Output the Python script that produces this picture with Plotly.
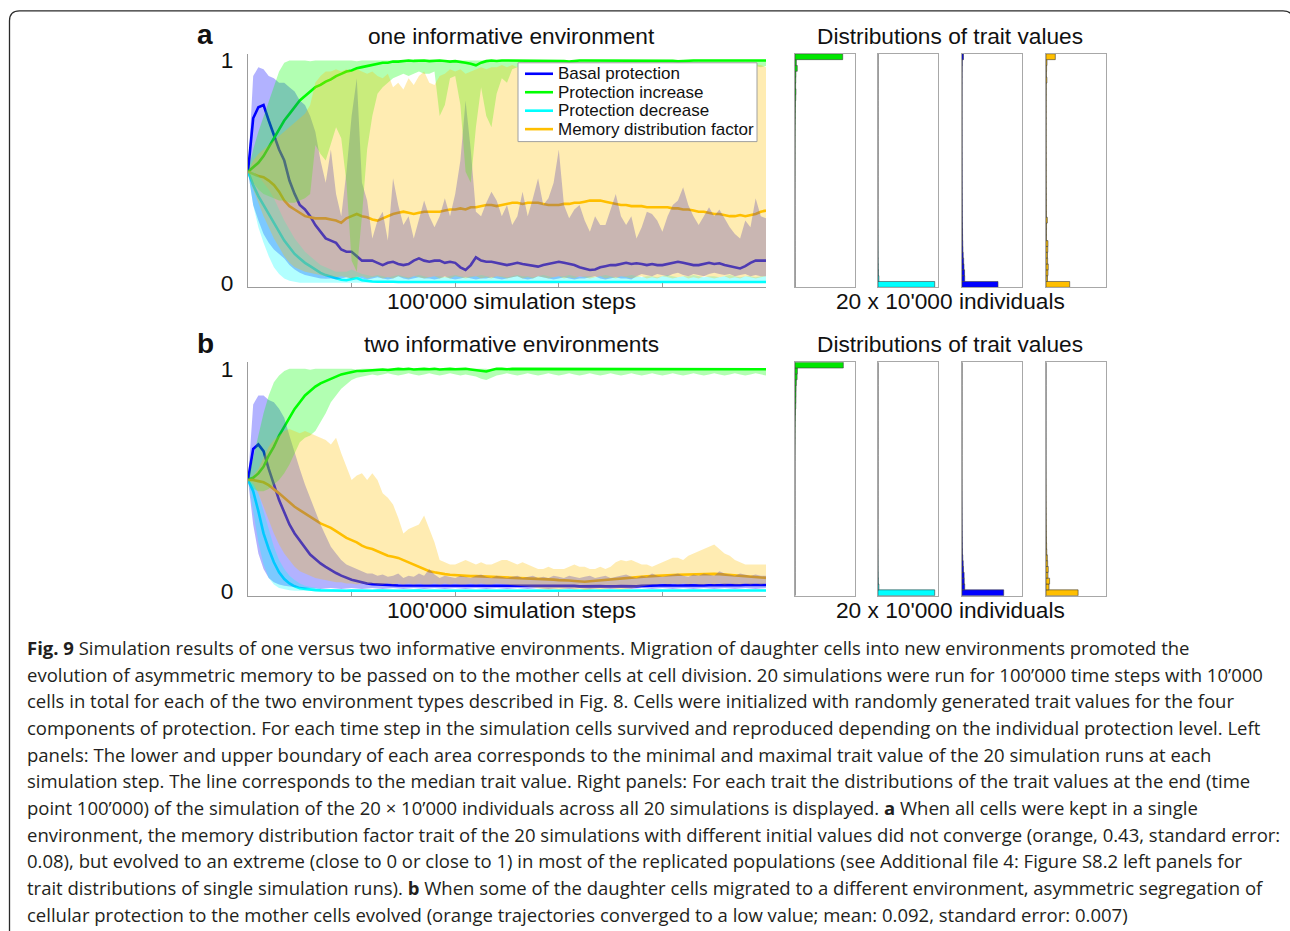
import plotly.graph_objects as go

# ----------------------------------------------------------------- data
steps = list(range(0, 100001, 1000))          # sample positions (simulation steps)
bin_centers = [round(0.0125 + 0.025 * i, 4) for i in range(40)]   # histogram bins of trait value

trait_names = {"basal": "Basal protection", "increase": "Protection increase",
               "decrease": "Protection decrease", "memory": "Memory distribution factor"}

# ---- panel a : one informative environment (median, min, max of 20 runs)
basal_med_a = [0.50,0.74,0.79,0.80,0.73,0.66,0.60,0.55,0.46,0.40,
               0.35,0.33,0.30,0.26,0.23,0.20,0.19,0.18,0.15,0.14,
               0.14,0.12,0.10,0.10,0.10,0.09,0.08,0.09,0.095,0.085,
               0.08,0.085,0.10,0.11,0.10,0.095,0.10,0.10,0.09,0.095,
               0.09,0.07,0.058,0.08,0.115,0.10,0.095,0.095,0.09,0.085,
               0.08,0.085,0.09,0.085,0.08,0.075,0.073,0.08,0.085,0.09,
               0.095,0.09,0.085,0.08,0.07,0.065,0.058,0.06,0.07,0.075,
               0.08,0.08,0.085,0.09,0.085,0.088,0.085,0.08,0.085,0.08,
               0.08,0.085,0.09,0.095,0.09,0.085,0.08,0.08,0.085,0.09,
               0.085,0.088,0.08,0.075,0.07,0.065,0.075,0.09,0.10,0.10,
               0.10]
basal_max_a = [0.50,0.93,0.97,0.96,0.93,0.92,0.90,0.90,0.88,0.86,
               0.82,0.80,0.75,0.68,0.55,0.45,0.60,0.40,0.30,0.50,
               0.75,0.92,0.45,0.37,0.20,0.28,0.32,0.19,0.47,0.35,
               0.26,0.30,0.20,0.28,0.37,0.30,0.25,0.30,0.38,0.30,
               0.40,0.55,0.82,0.60,0.32,0.30,0.36,0.41,0.37,0.30,
               0.35,0.26,0.30,0.41,0.30,0.38,0.47,0.35,0.38,0.45,
               0.60,0.35,0.29,0.33,0.35,0.28,0.23,0.30,0.26,0.26,
               0.33,0.40,0.30,0.26,0.30,0.20,0.25,0.32,0.31,0.28,
               0.23,0.30,0.35,0.37,0.43,0.35,0.30,0.26,0.30,0.34,
               0.30,0.33,0.29,0.25,0.22,0.20,0.28,0.25,0.38,0.30,
               0.29]
basal_min_a = [0.50,0.35,0.28,0.22,0.18,0.15,0.13,0.11,0.08,0.06,
               0.045,0.035,0.03,0.025,0.02,0.018,0.02,0.015,0.02,0.025,
               0.02,0.03,0.02,0.015,0.02,0.025,0.02,0.015,0.02,0.03,
               0.02,0.015,0.02,0.025,0.02,0.02,0.015,0.02,0.03,0.02,
               0.015,0.02,0.025,0.02,0.015,0.02,0.02,0.025,0.02,0.015,
               0.02,0.025,0.03,0.02,0.015,0.02,0.03,0.025,0.02,0.015,
               0.02,0.025,0.02,0.015,0.02,0.02,0.025,0.03,0.02,0.015,
               0.02,0.025,0.02,0.02,0.015,0.03,0.04,0.035,0.03,0.04,
               0.035,0.03,0.04,0.045,0.035,0.03,0.04,0.035,0.03,0.04,
               0.045,0.04,0.035,0.04,0.03,0.035,0.04,0.03,0.035,0.03,
               0.03]
incr_med_a = [0.50,0.52,0.54,0.57,0.61,0.65,0.69,0.73,0.76,0.79,
              0.82,0.84,0.86,0.88,0.89,0.905,0.915,0.93,0.94,0.95,
              0.955,0.965,0.97,0.975,0.98,0.985,0.99,0.99,0.995,0.995,
              0.998,1.0,0.998,1.0,1.0,0.997,1.0,1.0,0.998,0.995,
              0.997,0.995,0.99,0.985,0.978,0.99,0.997,1.0,0.998,1.0,
              1.0,0.998,1.0,1.0,0.997,1.0,1.0,1.0,0.998,1.0,
              1.0,0.997,0.995,0.998,1.0,1.0,1.0,0.998,1.0,1.0,
              0.998,1.0,1.0,1.0,0.997,1.0,1.0,1.0,1.0,0.998,
              1.0,1.0,0.998,0.996,0.998,1.0,1.0,1.0,1.0,0.998,
              1.0,1.0,1.0,0.997,0.998,1.0,1.0,1.0,1.0,1.0,
              1.0]
incr_max_a = [0.50,0.60,0.68,0.75,0.82,0.88,0.95,0.99,1.0,1.0,
              1.0,1.0,0.996,1.0,1.0,1.0,0.997,1.0,1.0,1.0,
              1.0,0.996,1.0,1.0,1.0,1.0,0.997,1.0,1.0,1.0,
              1.0,1.0,1.0,0.997,1.0,1.0,1.0,1.0,0.996,1.0,
              1.0,1.0,0.997,1.0,1.0,1.0,1.0,0.996,1.0,1.0,
              1.0,1.0,1.0,1.0,0.997,1.0,1.0,1.0,1.0,0.996,
              1.0,1.0,0.997,1.0,1.0,1.0,1.0,1.0,0.996,1.0,
              1.0,1.0,1.0,0.997,1.0,1.0,1.0,1.0,1.0,0.996,
              1.0,1.0,1.0,1.0,0.997,1.0,1.0,0.996,1.0,1.0,
              1.0,0.997,1.0,1.0,1.0,1.0,0.996,1.0,1.0,1.0,
              1.0]
incr_min_a = [0.50,0.45,0.42,0.40,0.39,0.38,0.37,0.37,0.36,0.36,
              0.37,0.38,0.40,0.62,0.58,0.55,0.62,0.70,0.65,0.45,
              0.10,0.05,0.30,0.60,0.75,0.85,0.88,0.90,0.92,0.93,
              0.94,0.93,0.94,0.95,0.94,0.94,0.95,0.75,0.80,0.92,
              0.93,0.80,0.50,0.45,0.70,0.88,0.75,0.70,0.85,0.92,
              0.90,0.96,0.97,0.975,0.97,0.98,0.975,0.97,0.98,0.975,
              0.97,0.975,0.98,0.975,0.97,0.98,0.975,0.98,0.97,0.975,
              0.98,0.975,0.97,0.975,0.98,0.975,0.97,0.98,0.975,0.97,
              0.975,0.98,0.975,0.97,0.975,0.98,0.975,0.97,0.975,0.98,
              0.975,0.97,0.975,0.98,0.975,0.97,0.975,0.98,0.975,0.97,
              0.975]
decr_med_a = [0.50,0.44,0.39,0.35,0.31,0.27,0.23,0.19,0.16,0.13,
              0.11,0.09,0.075,0.06,0.045,0.035,0.028,0.02,0.014,0.012,
              0.016,0.022,0.012,0.008,0.006,0.005,0.006,0.004,0.005,0.004,
              0.004,0.005,0.003,0.004,0.006,0.004,0.003,0.004,0.005,0.004,
              0.003,0.004,0.004,0.005,0.003,0.004,0.005,0.004,0.003,0.004,
              0.004,0.003,0.005,0.004,0.003,0.004,0.004,0.005,0.004,0.003,
              0.004,0.005,0.004,0.003,0.004,0.004,0.003,0.005,0.004,0.003,
              0.004,0.004,0.005,0.003,0.004,0.004,0.003,0.004,0.005,0.004,
              0.003,0.004,0.004,0.003,0.005,0.004,0.004,0.003,0.004,0.005,
              0.004,0.004,0.003,0.004,0.004,0.005,0.003,0.004,0.004,0.003,
              0.004]
decr_max_a = [0.50,0.50,0.48,0.45,0.42,0.38,0.33,0.28,0.24,0.20,
              0.17,0.14,0.12,0.10,0.08,0.07,0.06,0.05,0.05,0.05,
              0.06,0.05,0.04,0.035,0.03,0.035,0.03,0.025,0.03,0.035,
              0.03,0.025,0.03,0.035,0.03,0.025,0.03,0.03,0.025,0.03,
              0.035,0.03,0.025,0.03,0.03,0.035,0.03,0.025,0.03,0.03,
              0.025,0.03,0.035,0.03,0.03,0.025,0.03,0.035,0.03,0.025,
              0.03,0.03,0.035,0.03,0.025,0.03,0.03,0.025,0.03,0.035,
              0.03,0.025,0.03,0.03,0.035,0.03,0.025,0.03,0.03,0.025,
              0.03,0.035,0.03,0.025,0.03,0.03,0.035,0.03,0.025,0.03,
              0.03,0.025,0.03,0.035,0.03,0.025,0.03,0.03,0.025,0.03,
              0.03]
decr_min_a = [0.50,0.35,0.25,0.18,0.12,0.07,0.04,0.02,0.01,0.005,
              0.0,0.0,0.0,0.0,0.0,0.0,0.0,0.0,0.0,0.0,
              0.0,0.0,0.0,0.0,0.0,0.0,0.0,0.0,0.0,0.0,
              0.0,0.0,0.0,0.0,0.0,0.0,0.0,0.0,0.0,0.0,
              0.0,0.0,0.0,0.0,0.0,0.0,0.0,0.0,0.0,0.0,
              0.0,0.0,0.0,0.0,0.0,0.0,0.0,0.0,0.0,0.0,
              0.0,0.0,0.0,0.0,0.0,0.0,0.0,0.0,0.0,0.0,
              0.0,0.0,0.0,0.0,0.0,0.0,0.0,0.0,0.0,0.0,
              0.0,0.0,0.0,0.0,0.0,0.0,0.0,0.0,0.0,0.0,
              0.0,0.0,0.0,0.0,0.0,0.0,0.0,0.0,0.0,0.0,
              0.0]
mem_med_a = [0.50,0.49,0.48,0.475,0.46,0.44,0.41,0.37,0.345,0.33,
             0.315,0.30,0.295,0.29,0.29,0.29,0.285,0.28,0.27,0.29,
             0.30,0.31,0.30,0.295,0.285,0.28,0.29,0.30,0.31,0.315,
             0.32,0.315,0.31,0.315,0.32,0.32,0.32,0.32,0.325,0.33,
             0.33,0.335,0.33,0.34,0.34,0.345,0.35,0.35,0.345,0.35,
             0.355,0.36,0.36,0.355,0.36,0.36,0.36,0.355,0.35,0.35,
             0.35,0.355,0.355,0.36,0.36,0.365,0.37,0.37,0.37,0.365,
             0.36,0.355,0.35,0.35,0.345,0.345,0.345,0.34,0.34,0.34,
             0.34,0.34,0.335,0.335,0.33,0.33,0.325,0.32,0.32,0.315,
             0.31,0.31,0.305,0.30,0.30,0.305,0.30,0.305,0.31,0.32,
             0.325]
mem_max_a = [0.50,0.55,0.58,0.60,0.62,0.64,0.66,0.68,0.70,0.72,
             0.74,0.76,0.80,0.90,0.93,0.95,0.95,0.96,0.95,0.96,
             0.95,0.96,0.95,0.94,0.95,0.93,0.92,0.94,0.88,0.90,
             0.87,0.92,0.89,0.93,0.95,0.90,0.89,0.93,0.94,0.96,
             0.95,0.96,0.94,0.95,0.96,0.97,0.96,0.97,0.97,0.98,
             0.97,0.98,0.97,0.98,0.98,0.97,0.98,0.98,0.97,0.98,
             0.98,0.97,0.98,0.98,0.97,0.98,0.98,0.97,0.98,0.98,
             0.97,0.98,0.98,0.97,0.98,0.98,0.97,0.98,0.98,0.97,
             0.98,0.98,0.97,0.98,0.98,0.97,0.98,0.98,0.97,0.98,
             0.98,0.97,0.98,0.98,0.97,0.98,0.98,0.97,0.98,0.98,
             0.97]
mem_min_a = [0.50,0.42,0.36,0.30,0.25,0.20,0.16,0.12,0.09,0.07,
             0.06,0.05,0.045,0.04,0.035,0.03,0.03,0.025,0.03,0.025,
             0.02,0.025,0.03,0.02,0.025,0.03,0.02,0.025,0.02,0.03,
             0.025,0.02,0.03,0.025,0.02,0.025,0.03,0.02,0.025,0.02,
             0.03,0.025,0.02,0.025,0.03,0.02,0.025,0.02,0.03,0.025,
             0.02,0.025,0.03,0.02,0.025,0.02,0.03,0.025,0.02,0.025,
             0.03,0.02,0.025,0.02,0.03,0.025,0.02,0.025,0.03,0.02,
             0.025,0.02,0.03,0.025,0.02,0.025,0.03,0.02,0.025,0.02,
             0.03,0.025,0.02,0.025,0.03,0.02,0.025,0.02,0.03,0.025,
             0.02,0.025,0.03,0.02,0.025,0.02,0.03,0.025,0.02,0.025,
             0.03]

# ---- panel b : two informative environments
basal_med_b = [0.50,0.64,0.66,0.63,0.55,0.48,0.41,0.355,0.30,0.26,
               0.23,0.195,0.165,0.145,0.125,0.11,0.095,0.082,0.07,0.06,
               0.052,0.046,0.04,0.035,0.032,0.03,0.029,0.028,0.027,0.026,
               0.026,0.025,0.026,0.025,0.024,0.025,0.026,0.025,0.024,0.025,
               0.026,0.025,0.024,0.025,0.026,0.025,0.024,0.025,0.025,0.026,
               0.025,0.024,0.025,0.026,0.025,0.024,0.025,0.026,0.025,0.024,
               0.025,0.024,0.023,0.024,0.022,0.023,0.024,0.022,0.023,0.022,
               0.021,0.022,0.023,0.022,0.021,0.022,0.024,0.025,0.026,0.025,
               0.026,0.027,0.026,0.025,0.026,0.027,0.026,0.025,0.026,0.027,
               0.026,0.027,0.028,0.027,0.026,0.027,0.028,0.029,0.028,0.028,
               0.028]
basal_max_b = [0.50,0.84,0.88,0.88,0.86,0.85,0.82,0.78,0.70,0.62,
               0.55,0.48,0.42,0.36,0.30,0.25,0.20,0.17,0.14,0.12,
               0.11,0.10,0.09,0.08,0.08,0.07,0.075,0.065,0.07,0.08,
               0.06,0.07,0.065,0.08,0.07,0.10,0.075,0.06,0.07,0.065,
               0.06,0.07,0.065,0.06,0.07,0.075,0.065,0.06,0.07,0.065,
               0.06,0.065,0.07,0.06,0.065,0.07,0.06,0.065,0.06,0.07,
               0.065,0.06,0.07,0.065,0.06,0.065,0.07,0.06,0.065,0.07,
               0.06,0.065,0.07,0.075,0.065,0.06,0.07,0.065,0.08,0.07,
               0.065,0.07,0.075,0.08,0.07,0.065,0.075,0.07,0.08,0.075,
               0.07,0.09,0.08,0.075,0.07,0.08,0.075,0.07,0.075,0.07,
               0.07]
basal_min_b = [0.50,0.30,0.17,0.10,0.06,0.04,0.03,0.025,0.02,0.018,
               0.015,0.012,0.014,0.012,0.01,0.012,0.015,0.012,0.01,0.012,
               0.014,0.012,0.01,0.012,0.015,0.012,0.01,0.012,0.014,0.012,
               0.01,0.012,0.015,0.012,0.01,0.012,0.014,0.012,0.01,0.012,
               0.015,0.012,0.01,0.012,0.014,0.012,0.01,0.012,0.015,0.012,
               0.01,0.012,0.014,0.012,0.01,0.012,0.015,0.012,0.01,0.012,
               0.014,0.012,0.01,0.012,0.015,0.012,0.01,0.012,0.014,0.012,
               0.01,0.012,0.015,0.012,0.01,0.012,0.014,0.012,0.01,0.012,
               0.015,0.012,0.01,0.012,0.014,0.012,0.01,0.012,0.015,0.012,
               0.01,0.012,0.014,0.012,0.01,0.012,0.015,0.012,0.01,0.012,
               0.014]
incr_med_b = [0.50,0.51,0.53,0.56,0.61,0.65,0.70,0.74,0.78,0.82,
              0.85,0.88,0.90,0.92,0.935,0.945,0.955,0.965,0.975,0.98,
              0.985,0.99,0.99,0.992,0.995,0.995,0.997,0.995,0.998,1.0,
              0.998,1.0,0.997,1.0,1.0,0.998,1.0,0.997,1.0,1.0,
              0.998,1.0,1.0,0.997,0.995,0.99,0.988,0.995,1.0,1.0,
              0.998,1.0,1.0,1.0,0.997,1.0,1.0,0.998,1.0,1.0,
              1.0,0.997,1.0,1.0,0.998,1.0,1.0,1.0,0.997,1.0,
              1.0,0.998,1.0,1.0,1.0,0.997,1.0,1.0,0.998,1.0,
              1.0,1.0,0.997,1.0,1.0,0.998,1.0,1.0,1.0,0.997,
              1.0,1.0,0.998,1.0,1.0,0.997,1.0,1.0,1.0,1.0,
              0.998]
incr_max_b = [0.50,0.60,0.70,0.80,0.88,0.94,0.97,0.99,1.0,1.0,
              1.0,1.0,0.996,1.0,1.0,1.0,0.997,1.0,1.0,1.0,
              1.0,0.996,1.0,1.0,1.0,1.0,0.997,1.0,1.0,1.0,
              1.0,1.0,1.0,0.997,1.0,1.0,1.0,1.0,0.996,1.0,
              1.0,1.0,0.997,1.0,1.0,1.0,1.0,0.996,1.0,1.0,
              1.0,1.0,1.0,1.0,0.997,1.0,1.0,1.0,1.0,0.996,
              1.0,1.0,0.997,1.0,1.0,1.0,1.0,1.0,0.996,1.0,
              1.0,1.0,1.0,0.997,1.0,1.0,1.0,1.0,1.0,0.996,
              1.0,1.0,1.0,1.0,0.997,1.0,1.0,0.996,1.0,1.0,
              1.0,0.997,1.0,1.0,1.0,1.0,0.996,1.0,1.0,1.0,
              1.0]
incr_min_b = [0.50,0.46,0.45,0.45,0.46,0.48,0.50,0.53,0.57,0.62,
              0.67,0.69,0.70,0.72,0.76,0.80,0.85,0.88,0.91,0.93,
              0.95,0.96,0.965,0.97,0.975,0.97,0.975,0.98,0.975,0.97,
              0.975,0.98,0.975,0.97,0.975,0.98,0.975,0.97,0.975,0.98,
              0.975,0.97,0.975,0.97,0.965,0.955,0.95,0.96,0.97,0.975,
              0.98,0.975,0.97,0.975,0.98,0.975,0.97,0.975,0.98,0.975,
              0.97,0.975,0.98,0.975,0.97,0.975,0.98,0.975,0.97,0.975,
              0.98,0.975,0.97,0.975,0.98,0.975,0.97,0.975,0.98,0.975,
              0.97,0.975,0.98,0.975,0.97,0.975,0.98,0.975,0.97,0.975,
              0.98,0.975,0.97,0.975,0.98,0.975,0.97,0.975,0.98,0.975,
              0.97]
decr_med_b = [0.50,0.45,0.36,0.26,0.19,0.13,0.085,0.055,0.035,0.022,
              0.014,0.01,0.007,0.005,0.004,0.003,0.003,0.002,0.003,0.002,
              0.003,0.002,0.002,0.003,0.002,0.003,0.002,0.002,0.003,0.002,
              0.002,0.003,0.002,0.003,0.002,0.002,0.003,0.002,0.002,0.003,
              0.002,0.003,0.002,0.002,0.003,0.002,0.003,0.002,0.002,0.003,
              0.002,0.002,0.003,0.002,0.003,0.002,0.002,0.003,0.002,0.002,
              0.003,0.002,0.003,0.002,0.002,0.003,0.002,0.002,0.003,0.002,
              0.003,0.002,0.002,0.003,0.002,0.002,0.003,0.002,0.003,0.002,
              0.002,0.003,0.002,0.002,0.003,0.002,0.003,0.002,0.002,0.003,
              0.002,0.002,0.003,0.002,0.003,0.002,0.002,0.003,0.002,0.002,
              0.003]
decr_max_b = [0.50,0.49,0.44,0.36,0.28,0.20,0.14,0.10,0.07,0.05,
              0.035,0.025,0.02,0.015,0.012,0.01,0.01,0.009,0.01,0.008,
              0.008,0.007,0.009,0.008,0.006,0.008,0.009,0.007,0.008,0.01,
              0.008,0.007,0.009,0.008,0.006,0.008,0.009,0.007,0.008,0.01,
              0.008,0.007,0.009,0.008,0.006,0.008,0.009,0.007,0.008,0.01,
              0.008,0.007,0.009,0.008,0.006,0.008,0.009,0.007,0.008,0.01,
              0.008,0.007,0.009,0.008,0.006,0.008,0.009,0.007,0.008,0.01,
              0.008,0.007,0.009,0.008,0.006,0.008,0.009,0.007,0.008,0.01,
              0.008,0.007,0.009,0.008,0.006,0.008,0.009,0.007,0.008,0.01,
              0.008,0.007,0.009,0.008,0.006,0.008,0.009,0.007,0.008,0.01,
              0.008]
decr_min_b = [0.50,0.36,0.22,0.12,0.06,0.03,0.015,0.008,0.004,0.002,
              0.0,0.0,0.0,0.0,0.0,0.0,0.0,0.0,0.0,0.0,
              0.0,0.0,0.0,0.0,0.0,0.0,0.0,0.0,0.0,0.0,
              0.0,0.0,0.0,0.0,0.0,0.0,0.0,0.0,0.0,0.0,
              0.0,0.0,0.0,0.0,0.0,0.0,0.0,0.0,0.0,0.0,
              0.0,0.0,0.0,0.0,0.0,0.0,0.0,0.0,0.0,0.0,
              0.0,0.0,0.0,0.0,0.0,0.0,0.0,0.0,0.0,0.0,
              0.0,0.0,0.0,0.0,0.0,0.0,0.0,0.0,0.0,0.0,
              0.0,0.0,0.0,0.0,0.0,0.0,0.0,0.0,0.0,0.0,
              0.0,0.0,0.0,0.0,0.0,0.0,0.0,0.0,0.0,0.0,
              0.0]
mem_med_b = [0.50,0.50,0.495,0.49,0.477,0.46,0.44,0.42,0.40,0.38,
             0.365,0.35,0.335,0.32,0.305,0.295,0.285,0.27,0.255,0.24,
             0.23,0.22,0.205,0.195,0.19,0.18,0.17,0.16,0.155,0.15,
             0.14,0.13,0.12,0.11,0.10,0.09,0.085,0.08,0.077,0.074,
             0.072,0.07,0.07,0.068,0.068,0.067,0.066,0.066,0.065,0.064,
             0.063,0.062,0.062,0.06,0.06,0.058,0.057,0.055,0.053,0.052,
             0.05,0.05,0.048,0.046,0.044,0.043,0.045,0.047,0.05,0.052,
             0.055,0.057,0.06,0.062,0.064,0.065,0.066,0.067,0.068,0.07,
             0.071,0.072,0.073,0.074,0.075,0.076,0.077,0.077,0.076,0.077,
             0.078,0.077,0.075,0.073,0.072,0.07,0.068,0.066,0.064,0.062,
             0.06]
mem_max_b = [0.50,0.52,0.55,0.60,0.65,0.68,0.70,0.72,0.73,0.72,
             0.71,0.72,0.71,0.70,0.69,0.68,0.66,0.69,0.62,0.56,
             0.50,0.52,0.53,0.50,0.53,0.50,0.44,0.42,0.39,0.33,
             0.26,0.28,0.29,0.30,0.34,0.28,0.22,0.14,0.13,0.12,
             0.12,0.13,0.14,0.13,0.12,0.13,0.12,0.12,0.13,0.14,
             0.14,0.13,0.12,0.13,0.12,0.11,0.10,0.10,0.11,0.10,
             0.10,0.10,0.11,0.12,0.11,0.11,0.10,0.10,0.11,0.10,
             0.11,0.13,0.14,0.135,0.14,0.13,0.12,0.12,0.11,0.12,
             0.13,0.14,0.15,0.15,0.14,0.16,0.17,0.18,0.19,0.20,
             0.21,0.19,0.17,0.16,0.14,0.13,0.12,0.12,0.12,0.12,
             0.12]
mem_min_b = [0.50,0.48,0.44,0.38,0.32,0.26,0.21,0.17,0.14,0.11,
             0.09,0.08,0.07,0.06,0.055,0.05,0.045,0.04,0.04,0.035,
             0.035,0.03,0.035,0.03,0.035,0.03,0.03,0.035,0.03,0.035,
             0.03,0.035,0.03,0.035,0.03,0.03,0.035,0.03,0.035,0.03,
             0.035,0.03,0.03,0.035,0.03,0.035,0.03,0.03,0.035,0.03,
             0.03,0.028,0.025,0.022,0.02,0.018,0.012,0.01,0.008,0.01,
             0.008,0.01,0.012,0.008,0.01,0.006,0.008,0.01,0.008,0.01,
             0.012,0.01,0.008,0.01,0.012,0.015,0.02,0.025,0.03,0.03,
             0.035,0.03,0.035,0.03,0.035,0.03,0.035,0.03,0.03,0.035,
             0.03,0.035,0.03,0.035,0.03,0.03,0.035,0.03,0.035,0.03,
             0.035]

# ---- final trait distributions (counts of 20 x 10'000 individuals per bin, bottom bin first)
hist_incr_a = [0,0,0,0,0,0,0,0,0,0,0,0,0,0,0,0,0,
               100,150,200,200,250,300,300,400,400,500,600,800,1000,1200,1500,2500,3200,2000,2500,3000,7500,4500,159000]
hist_decr_a = [189000,3000,1500,900,600,400,300,250,200,150,100,
               0,0,0,0,0,0,0,0,0,0,0,0,0,0,0,0,0,0,0,0,0,0,0,0,0,0,0,0,0]
hist_basal_a = [120000,9000,8500,6500,5500,4000,3000,2500,2000,1800,1500,1300,1100,1000,900,800,700,650,600,550,
                500,450,450,400,400,350,350,300,300,300,300,300,300,300,350,400,450,600,1000,5000]
hist_mem_a = [79000,5000,6500,7500,5500,5000,6000,6500,1500,1500,1800,4400,1500,1300,1200,1100,1000,900,900,850,
              800,800,750,750,700,700,700,700,750,750,800,800,850,900,1000,3000,1500,2000,3300,31000]
hist_incr_b = [0,0,0,0,0,0,0,0,0,0,0,0,0,0,0,0,0,0,0,0,0,0,0,
               100,150,200,300,400,500,700,1000,1500,2500,3000,3300,3500,4500,7000,8000,161000]
hist_decr_b = [189000,3000,1200,700,400,300,200,150,100,
               0,0,0,0,0,0,0,0,0,0,0,0,0,0,0,0,0,0,0,0,0,0,0,0,0,0,0,0,0,0,0]
hist_basal_b = [139000,9000,7500,7000,5000,4000,2500,1500,1200,1000,800,600,500,400,300,250,200,150,100,80,
                0,0,0,0,0,0,0,0,0,0,0,0,0,0,0,0,0,0,0,0]
hist_mem_b = [107000,10000,12000,6500,7500,5500,4500,2500,2000,1500,1200,1000,800,700,600,500,400,350,300,200,
              150,120,100,80,60,50,40,30,0,0,0,0,0,0,0,0,0,0,0,0]

caption_lines = [
    "<b>Fig. 9</b> Simulation results of one versus two informative environments. Migration of daughter cells into new environments promoted the",
    "evolution of asymmetric memory to be passed on to the mother cells at cell division. 20 simulations were run for 100’000 time steps with 10’000",
    "cells in total for each of the two environment types described in Fig. 8. Cells were initialized with randomly generated trait values for the four",
    "components of protection. For each time step in the simulation cells survived and reproduced depending on the individual protection level. Left",
    "panels: The lower and upper boundary of each area corresponds to the minimal and maximal trait value of the 20 simulation runs at each",
    "simulation step. The line corresponds to the median trait value. Right panels: For each trait the distributions of the trait values at the end (time",
    "point 100’000) of the simulation of the 20 × 10’000 individuals across all 20 simulations is displayed. <b>a</b> When all cells were kept in a single",
    "environment, the memory distribution factor trait of the 20 simulations with different initial values did not converge (orange, 0.43, standard error:",
    "0.08), but evolved to an extreme (close to 0 or close to 1) in most of the replicated populations (see Additional file 4: Figure S8.2 left panels for",
    "trait distributions of single simulation runs). <b>b</b> When some of the daughter cells migrated to a different environment, asymmetric segregation of",
    "cellular protection to the mother cells evolved (orange trajectories converged to a low value; mean: 0.092, standard error: 0.007)",
]

# ----------------------------------------------------------------- styling
W, H = 1290, 931
# vertical placement is calibrated against the rendered page
Y_SCALE, Y_SHIFT = 0.987, 5.1
def fx(p):
    return p / W
def fy(p):
    return 1 - ((p - Y_SHIFT) / Y_SCALE) / H

TRAITS = ["basal", "increase", "decrease", "memory"]
HIST_ORDER = ["increase", "decrease", "basal", "memory"]
line_col = {"basal": "#0000ff", "increase": "#00ff00", "decrease": "#00ffff", "memory": "#ffbf00"}
fill_col = {"basal": "rgba(0,0,255,0.3)", "increase": "rgba(0,255,0,0.3)",
            "decrease": "rgba(0,255,255,0.3)", "memory": "rgba(255,191,0,0.3)"}
hist_col = {"basal": "#0000ff", "increase": "#00e600", "decrease": "#00ffff", "memory": "#ffbf00"}

panels = [
    dict(med={"basal": basal_med_a, "increase": incr_med_a, "decrease": decr_med_a, "memory": mem_med_a},
         lo={"basal": basal_min_a, "increase": incr_min_a, "decrease": decr_min_a, "memory": mem_min_a},
         hi={"basal": basal_max_a, "increase": incr_max_a, "decrease": decr_max_a, "memory": mem_max_a},
         hist={"basal": hist_basal_a, "increase": hist_incr_a, "decrease": hist_decr_a, "memory": hist_mem_a},
         top=53, bot=287, letter="a", title="one informative environment"),
    dict(med={"basal": basal_med_b, "increase": incr_med_b, "decrease": decr_med_b, "memory": mem_med_b},
         lo={"basal": basal_min_b, "increase": incr_min_b, "decrease": decr_min_b, "memory": mem_min_b},
         hi={"basal": basal_max_b, "increase": incr_max_b, "decrease": decr_max_b, "memory": mem_max_b},
         hist={"basal": hist_basal_b, "increase": hist_incr_b, "decrease": hist_decr_b, "memory": hist_mem_b},
         top=362, bot=596, letter="b", title="two informative environments"),
]
HIST_X = [(795, 855), (878, 938), (962, 1022), (1046, 1106)]
LEFT_X = (248, 766)
AX = "#9c9c9c"
FONT = "Liberation Sans"
TXT = "#111111"

def aid(c, n):
    return c if n == 1 else f"{c}{n}"
def akey(c, n):
    return f"{c}axis" if n == 1 else f"{c}axis{n}"

fig = go.Figure()
layout_axes = {}
annotations = []
shapes = []

for pi, p in enumerate(panels):
    n = 1 + 5 * pi
    xa, ya = aid("x", n), aid("y", n)
    # median lines first, bands drawn translucently on top of them
    for t in TRAITS:
        fig.add_trace(go.Scatter(x=steps, y=p["med"][t], mode="lines", name=trait_names[t],
                                 line=dict(color=line_col[t], width=2.6),
                                 xaxis=xa, yaxis=ya, showlegend=False, hoverinfo="skip"))
    for t in TRAITS:
        fig.add_trace(go.Scatter(x=steps + steps[::-1], y=p["hi"][t] + p["lo"][t][::-1],
                                 mode="lines", fill="toself", fillcolor=fill_col[t],
                                 line=dict(width=0, color=fill_col[t]),
                                 xaxis=xa, yaxis=ya, showlegend=False, hoverinfo="skip"))
    layout_axes[akey("x", n)] = dict(domain=[fx(LEFT_X[0]), fx(LEFT_X[1])], range=[0, 100000], anchor=ya,
                                     showline=True, linecolor=AX, linewidth=1, ticks="inside", ticklen=4,
                                     tickcolor=AX, tickvals=[20000, 40000, 60000, 80000],
                                     showticklabels=False, showgrid=False, zeroline=False)
    layout_axes[akey("y", n)] = dict(domain=[fy(p["bot"]), fy(p["top"])], range=[-0.02, 1.03], anchor=xa,
                                     showline=True, linecolor=AX, linewidth=1, ticks="",
                                     tickvals=[0, 1], ticktext=["0", "1"], ticklabelstandoff=9,
                                     tickfont=dict(family=FONT, size=22.7, color=TXT),
                                     showgrid=False, zeroline=False)
    for j, t in enumerate(HIST_ORDER):
        m = n + 1 + j
        fig.add_trace(go.Bar(y=bin_centers, x=p["hist"][t], orientation="h", width=0.025,
                             marker=dict(color=hist_col[t], line=dict(color="#3c3c3c", width=0.6)),
                             xaxis=aid("x", m), yaxis=aid("y", m), showlegend=False, hoverinfo="skip"))
        layout_axes[akey("x", m)] = dict(domain=[fx(HIST_X[j][0]), fx(HIST_X[j][1])], range=[0, 200000],
                                         anchor=aid("y", m), showline=True, mirror=True, linecolor="#a8a8a8",
                                         linewidth=1.2, ticks="", showticklabels=False, showgrid=False,
                                         zeroline=False)
        layout_axes[akey("y", m)] = dict(domain=[fy(p["bot"]), fy(p["top"])], range=[0, 1],
                                         anchor=aid("x", m), showline=True, mirror=True, linecolor="#a8a8a8",
                                         linewidth=1.2, ticks="", showticklabels=False, showgrid=False,
                                         zeroline=False)
    off = p["top"] - 53
    annotations += [
        dict(text=f"<b>{p['letter']}</b>", x=fx(205), y=fy(34 + off), font=dict(family=FONT, size=28, color=TXT)),
        dict(text=p["title"], x=fx(511), y=fy(35 + off), font=dict(family=FONT, size=22.7, color=TXT)),
        dict(text="Distributions of trait values", x=fx(950), y=fy(35 + off), font=dict(family=FONT, size=22.7, color=TXT)),
        dict(text="100'000 simulation steps", x=fx(511), y=fy(301 + off), font=dict(family=FONT, size=22.7, color=TXT)),
        dict(text="20 x 10'000 individuals", x=fx(950), y=fy(301 + off), font=dict(family=FONT, size=22.7, color=TXT)),
    ]

# legend of panel a
shapes.append(dict(type="rect", xref="paper", yref="paper", x0=fx(518), x1=fx(757), y0=fy(141), y1=fy(62),
                   fillcolor="white", line=dict(color="#a0a0a0", width=1), layer="above"))
for k, t in enumerate(TRAITS):
    yc = 73 + 18.5 * k
    shapes.append(dict(type="line", xref="paper", yref="paper", x0=fx(525), x1=fx(553), y0=fy(yc), y1=fy(yc),
                       line=dict(color=line_col[t], width=2.6), layer="above"))
    annotations.append(dict(text=trait_names[t], x=fx(556), y=fy(yc), xanchor="left",
                            font=dict(family=FONT, size=17, color=TXT)))

# caption
for k, line in enumerate(caption_lines):
    annotations.append(dict(text=line, x=fx(25), y=fy(648 + 26.7 * k), xanchor="left",
                            font=dict(family="Open Sans", size=18.5, color="#231f20")))

for a in annotations:
    a.setdefault("xref", "paper")
    a.setdefault("yref", "paper")
    a.setdefault("showarrow", False)
    a.setdefault("xanchor", "center")
    a.setdefault("yanchor", "middle")

# outer frame with rounded corners
frame = (f"M {fx(9.5)},{fy(945)} L {fx(9.5)},{fy(20)} Q {fx(9.5)},{fy(10)} {fx(19.5)},{fy(10)} "
         f"L {fx(1283)},{fy(10)} Q {fx(1293)},{fy(10)} {fx(1293)},{fy(20)} L {fx(1293)},{fy(945)}")
shapes.append(dict(type="path", xref="paper", yref="paper", path=frame, line=dict(color="#2a2a2a", width=1.3)))

fig.update_layout(width=W, height=H, margin=dict(l=0, r=0, t=0, b=0), paper_bgcolor="white",
                  plot_bgcolor="white", showlegend=False, hovermode=False,
                  annotations=annotations, shapes=shapes, **layout_axes)

fig.write_html("out.html", config={"displayModeBar": False},
               post_script="document.body.style.margin='0px';")
